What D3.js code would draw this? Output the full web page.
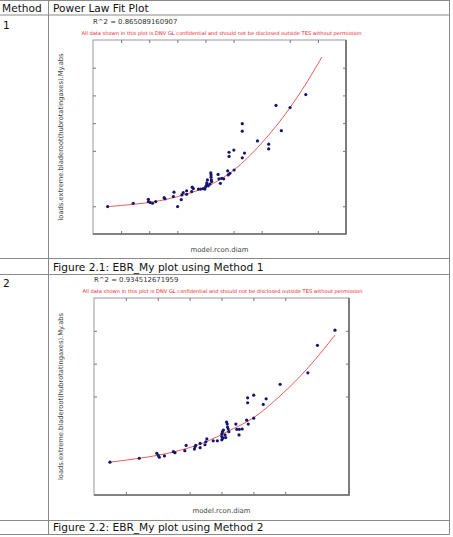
<!DOCTYPE html>
<html>
<head>
<meta charset="utf-8">
<script src="https://cdn.jsdelivr.net/npm/d3@7"></script>
<style>
  body { margin: 0; background: #fff; }
  svg { display: block; font-family: "DejaVu Sans", Verdana, sans-serif; }
</style>
</head>
<body>
<svg id="chart" width="453" height="537"></svg>
<script>
// table texts
var headers = ["Method", "Power Law Fit Plot"];
var methods = ["1", "2"];
var captions = ["Figure 2.1: EBR_My plot using Method 1", "Figure 2.2: EBR_My plot using Method 2"];
var rsquared = ["R^2 = 0.865089160907", "R^2 = 0.934512671959"];
var notice = "All data shown in this plot is DNV GL confidential and should not be disclosed outside TES without permission";
var xLabel = "model.rcon.diam";
var yLabel = "loads.extreme.bladeroot(hubrotatingaxes).My.abs";

// method 1 (axis units are unlabelled in the original)
var xTop1 = [1, 2, 3, 4, 5, 7, 8];
var xBottom1 = [1, 2, 3, 5, 6, 8];
var yTicks1 = [1, 3, 4, 5, 6];
var points1 = [
  [0.52, 0.99], [1.43, 1.11], [1.97, 1.25], [1.97, 1.17], [2.03, 1.14], [2.12, 1.11],
  [2.23, 1.17], [2.53, 1.31], [2.56, 1.27], [2.86, 1.35], [2.88, 1.51], [3.01, 0.99],
  [3.14, 1.24], [3.16, 1.41], [3.21, 1.49], [3.33, 1.43], [3.33, 1.56], [3.51, 1.53],
  [3.53, 1.69], [3.57, 1.64], [3.75, 1.62], [3.83, 1.62], [3.92, 1.64], [3.98, 1.62],
  [4.01, 1.71], [4.05, 1.85], [4.05, 1.79], [4.07, 1.95], [4.10, 1.74], [4.16, 1.80],
  [4.19, 2.21], [4.20, 2.13], [4.20, 2.05], [4.21, 1.95], [4.22, 1.89], [4.45, 2.15],
  [4.48, 1.99], [4.53, 1.83], [4.58, 2.01], [4.65, 1.99], [4.79, 2.28], [4.81, 2.13],
  [4.87, 2.19], [4.84, 2.95], [4.84, 2.80], [5.01, 3.03], [5.02, 2.31], [5.31, 3.98],
  [5.31, 3.71], [5.31, 2.75], [5.39, 2.92], [5.85, 3.36], [6.25, 3.24], [6.25, 3.07],
  [6.51, 4.64], [6.70, 3.73], [7.01, 4.56], [7.57, 5.03]
];
var fit1 = [
  [0.52, 0.99], [1.42, 1.07], [2.21, 1.17], [3.01, 1.35], [4.05, 1.71],
  [4.99, 2.29], [6.00, 3.28], [7.01, 4.56], [7.57, 5.41], [8.14, 6.38]
];

// method 2
var xTop2 = [1, 2, 3, 4, 5, 6];
var xBottom2 = [1, 3, 4, 5, 6];
var yTicks2 = [3, 4, 5];
var points2 = [
  [0.50, 1.00], [1.42, 1.12], [1.97, 1.27], [2.02, 1.20], [2.05, 1.15], [2.21, 1.19],
  [2.49, 1.32], [2.54, 1.29], [2.85, 1.35], [2.89, 1.51], [3.15, 1.40], [3.17, 1.47],
  [3.19, 1.51], [3.33, 1.57], [3.33, 1.44], [3.48, 1.53], [3.51, 1.62], [3.54, 1.71],
  [3.74, 1.65], [3.87, 1.65], [4.01, 1.68], [4.01, 1.78], [4.01, 1.86], [4.03, 1.93],
  [4.04, 1.73], [4.06, 1.98], [4.11, 1.83], [4.13, 1.75], [4.16, 2.22], [4.18, 2.16],
  [4.19, 2.07], [4.21, 2.01], [4.23, 1.93], [4.45, 2.16], [4.48, 2.00], [4.55, 1.83],
  [4.56, 2.00], [4.65, 2.01], [4.79, 2.28], [4.84, 2.16], [4.82, 2.96], [4.82, 2.81],
  [5.01, 3.04], [5.01, 2.34], [5.31, 2.76], [5.40, 2.93], [5.84, 3.37], [6.71, 3.72],
  [7.01, 4.56], [7.56, 5.02]
];
var fit2 = [
  [0.50, 1.00], [1.44, 1.12], [2.49, 1.31], [3.54, 1.63], [4.16, 1.92],
  [5.00, 2.35], [5.84, 3.02], [6.71, 3.87], [7.56, 4.87]
];

var svg = d3.select("#chart");

// ---- table grid
var grid = svg.append("g").attr("stroke", "#8a8a8a").attr("stroke-width", 1);
[0.5, 15, 258.5, 274.5, 520.5, 534.5].forEach(function (y) {
  grid.append("line").attr("x1", 0).attr("x2", 449.5).attr("y1", y).attr("y2", y);
});
grid.append("line").attr("x1", 48.5).attr("x2", 48.5).attr("y1", 0).attr("y2", 534.5);
grid.append("line").attr("x1", 449.5).attr("x2", 449.5).attr("y1", 0).attr("y2", 534.5);

var big = svg.append("g").attr("font-size", 10.6).attr("fill", "#111");
big.append("text").attr("x", 2).attr("y", 11.5).text(headers[0]);
big.append("text").attr("x", 53).attr("y", 11.5).text(headers[1]);
big.append("text").attr("x", 3).attr("y", 29).text(methods[0]);
big.append("text").attr("x", 3).attr("y", 287).text(methods[1]);
big.append("text").attr("x", 53).attr("y", 270.5).text(captions[0]);
big.append("text").attr("x", 53).attr("y", 531).text(captions[1]);

function drawPlot(cfg) {
  var g = svg.append("g");
  var x = d3.scaleLinear().domain(cfg.xDomain).range([cfg.left, cfg.right]);
  var y = d3.scaleLinear().domain(cfg.yDomain).range([cfg.bottom, cfg.top]);

  g.append("text").attr("x", cfg.left).attr("y", cfg.top - 16)
    .attr("font-size", 6.9).attr("fill", "#333").text(cfg.r2);
  g.append("text").attr("x", cfg.left - 11.5).attr("y", cfg.top - 5)
    .attr("font-size", 5).attr("fill", "#e8202a")
    .attr("textLength", 280).attr("lengthAdjust", "spacingAndGlyphs").text(notice);

  g.append("rect").attr("x", cfg.left).attr("y", cfg.top)
    .attr("width", cfg.right - cfg.left).attr("height", cfg.bottom - cfg.top)
    .attr("fill", "#fff").attr("stroke", "#9a9a9a").attr("stroke-width", 1);
  // darker right and bottom edges
  g.append("path")
    .attr("d", "M" + cfg.right + "," + cfg.top + "V" + cfg.bottom + "H" + cfg.left)
    .attr("fill", "none").attr("stroke", "#6a6a6a").attr("stroke-width", 1.6);

  var axes = [
    [d3.axisBottom(x).tickValues(cfg.xBottom), "translate(0," + cfg.bottom + ")"],
    [d3.axisTop(x).tickValues(cfg.xTop), "translate(0," + cfg.top + ")"],
    [d3.axisLeft(y).tickValues(cfg.yTicks), "translate(" + cfg.left + ",0)"],
    [d3.axisRight(y).tickValues(cfg.yTicks), "translate(" + cfg.right + ",0)"]
  ];
  axes.forEach(function (a) {
    var ag = g.append("g").attr("transform", a[1])
      .call(a[0].tickSize(-3).tickFormat(""));
    ag.select(".domain").remove();
    ag.selectAll("line").attr("stroke", "#777");
  });

  var line = d3.line()
    .x(function (d) { return x(d[0]); })
    .y(function (d) { return y(d[1]); })
    .curve(d3.curveMonotoneX);
  g.append("path").datum(cfg.fit).attr("d", line)
    .attr("fill", "none").attr("stroke", "#e84848").attr("stroke-width", 0.9);

  g.selectAll("circle.pt").data(cfg.points).enter().append("circle")
    .attr("class", "pt")
    .attr("cx", function (d) { return x(d[0]); })
    .attr("cy", function (d) { return y(d[1]); })
    .attr("r", 1.6)
    .attr("fill", "#16166e");

  g.append("text").attr("x", (cfg.left + cfg.right) / 2).attr("y", cfg.bottom + 17.5)
    .attr("text-anchor", "middle").attr("font-size", 6.9).attr("fill", "#444")
    .text(xLabel);
  g.append("text")
    .attr("transform", "translate(" + 63 + "," + (cfg.top + cfg.bottom) / 2 + ") rotate(-90)")
    .attr("text-anchor", "middle").attr("font-size", 6.8).attr("fill", "#444")
    .attr("textLength", 167).attr("lengthAdjust", "spacingAndGlyphs")
    .text(yLabel);
}

drawPlot({
  left: 93, right: 346, top: 40, bottom: 234,
  xDomain: [0, 9], yDomain: [0, 7],
  xTop: xTop1, xBottom: xBottom1, yTicks: yTicks1,
  points: points1, fit: fit1, r2: rsquared[0]
});
drawPlot({
  left: 94, right: 349, top: 298, bottom: 495,
  xDomain: [0, 8], yDomain: [0, 6],
  xTop: xTop2, xBottom: xBottom2, yTicks: yTicks2,
  points: points2, fit: fit2, r2: rsquared[1]
});
</script>
</body>
</html>
